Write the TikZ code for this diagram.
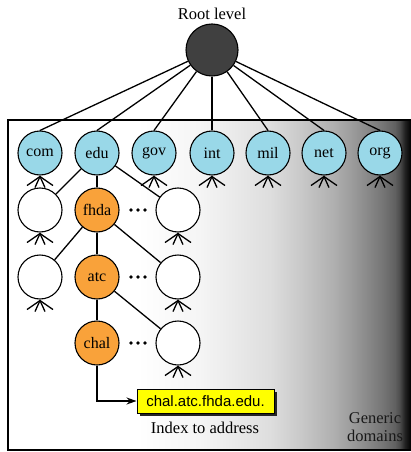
\documentclass[tikz,border=0pt]{standalone}
\usepackage{fontspec}
\setmainfont{Liberation Serif}
\newfontfamily\boxfont{Liberation Sans}
\usetikzlibrary{arrows.meta,shadows}
\definecolor{rootfill}{HTML}{404040}
\definecolor{tldfill}{HTML}{99D8E8}
\definecolor{pathfill}{HTML}{F9A23A}
\definecolor{addrfill}{HTML}{FFFF00}
\pgfdeclarehorizontalshading{domainshade}{100bp}{
  color(0bp)=(white); color(25bp)=(white); color(41bp)=(white);
  color(48.8bp)=(black!4); color(57.5bp)=(black!13); color(61.2bp)=(black!21);
  color(65.3bp)=(black!31); color(67.4bp)=(black!38); color(69.5bp)=(black!46);
  color(71.5bp)=(black!54); color(73bp)=(black!62); color(73.6bp)=(black!70);
  color(74.2bp)=(black!86); color(75bp)=(black); color(100bp)=(black)}
\begin{document}
\begin{tikzpicture}[x=1pt,y=-1pt,
  every node/.style={font=\fontsize{16.5}{19}\selectfont},
  dnode/.style={circle,draw=black,line width=1.1pt,minimum size=44pt,inner sep=0pt,
    font=\fontsize{16}{18}\selectfont},
  tld/.style={dnode,fill=tldfill},
  onpath/.style={dnode,fill=pathfill},
  blank/.style={dnode,fill=white},
  link/.style={line width=1.3pt},
  fanline/.style={line width=1.3pt},
  dotmark/.style={circle,fill=black,inner sep=0pt,minimum size=3.8pt}]
\useasboundingbox (0,0) rectangle (411,452);
% background box of generic domains
\shade[shading=domainshade] (8,120) rectangle (411,450);
\draw[line width=1.2pt] (411,120) -- (8,120) -- (8,450) -- (411,450);
% root
\node (rootlabel) at (212,14) {Root level};
\node[dnode,fill=rootfill,minimum size=52pt] (root) at (212,50) {};
% top level
\node[tld] (com) at (40,153) {com};
\node[tld] (edu) at (97,153) {edu};
\node[tld] (gov) at (154,153) {gov};
\node[tld] (int) at (212,153) {int};
\node[tld] (mil) at (268,153) {mil};
\node[tld] (net) at (324,153) {net};
\node[tld] (org) at (380,153) {org};
% lower levels
\node[blank] (w21) at (40,210) {};
\node[onpath] (fhda) at (97,210) {fhda};
\node[blank] (w23) at (178,210) {};
\node[blank] (w31) at (40,277) {};
\node[onpath] (atc) at (97,277) {atc};
\node[blank] (w33) at (178,277) {};
\node[onpath] (chal) at (97,343) {chal};
\node[blank] (w43) at (178,343) {};
% dots
\foreach \y/\k in {210/a,277/b,343/c}{
  \node[dotmark] (d1\k) at (131,\y) {};
  \node[dotmark] (d2\k) at (138,\y) {};
  \node[dotmark] (d3\k) at (145,\y) {};
}
% root links
\foreach \n in {com,edu,gov,int,mil,net,org}
  \draw[link] (root) -- (\n.north);
% tree links
\draw[link] (edu) -- (w21);
\draw[link] (edu) -- (fhda);
\draw[link] (edu) -- (w23);
\draw[link] (fhda) -- (w31);
\draw[link] (fhda) -- (atc);
\draw[link] (fhda) -- (w33);
\draw[link] (atc) -- (chal);
\draw[link] (atc) -- (w43);
% fans
\foreach \n in {com,gov,int,mil,net,org,w21,w23,w31,w33,w43}{
  \coordinate (apex) at ([yshift=-1pt]\n.south);
  \draw[fanline] (apex) -- ++(-13,9);
  \draw[fanline] (apex) -- ++(-5,11);
  \draw[fanline] (apex) -- ++(5,11);
  \draw[fanline] (apex) -- ++(13,9);
}
% address
\node[draw=black,line width=1pt,fill=addrfill,minimum width=137pt,minimum height=24pt,inner sep=0pt,
  font=\boxfont\fontsize{15}{17}\selectfont,
  drop shadow={shadow xshift=3pt,shadow yshift=-3pt,fill=black!85,opacity=1}]
  (addr) at (205.5,401) {chal.atc.fhda.edu.};
\draw[link,-{Stealth[length=10pt,width=7pt]}] (chal) |- (addr);
\node (idx) at (205,428) {Index to address};
\node[text=black!90,align=center,font=\fontsize{16.5}{18}\selectfont] (gen) at (375,427) {Generic\\domains};
\end{tikzpicture}
\end{document}
